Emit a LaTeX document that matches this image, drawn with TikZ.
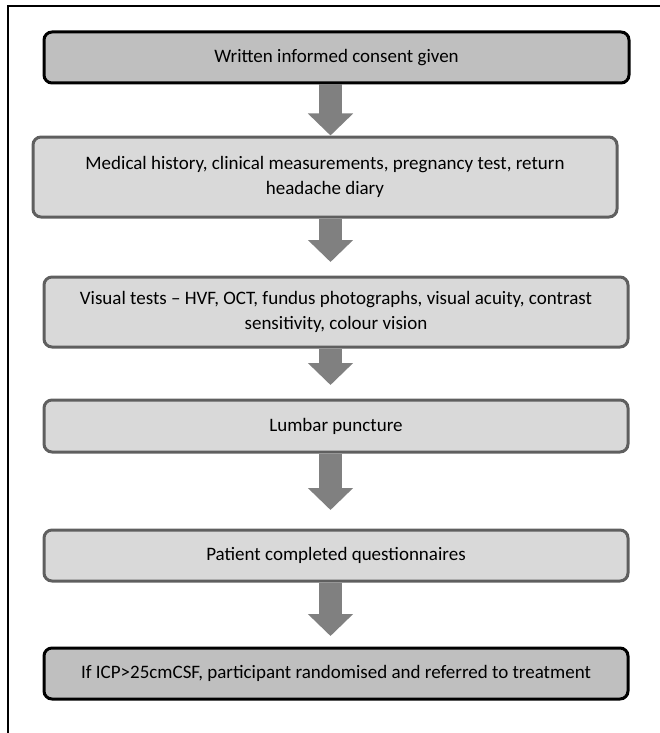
\documentclass[tikz,border=0pt]{standalone}
\usepackage{fontspec}
\setmainfont{Carlito}
\usetikzlibrary{arrows.meta,calc}
\definecolor{darkfill}{HTML}{BFBFBF}
\definecolor{lightfill}{HTML}{D9D9D9}
\definecolor{lightdraw}{HTML}{5F5F5F}
\definecolor{arrowgray}{HTML}{808080}
\begin{document}
\begin{tikzpicture}[x=1pt,y=-1pt,
  basebox/.style={rectangle, rounded corners=8pt, line width=3pt, align=center, inner sep=0pt, outer sep=0pt,
    font=\fontsize{19}{24.5}\selectfont, text=black},
  darkbox/.style={basebox, draw=black, fill=darkfill},
  lightbox/.style={basebox, draw=lightdraw, fill=lightfill},
  bigarrow/.style={draw=arrowgray, line width=23pt, -{Triangle[width=44pt,length=22pt]}, arrowgray, shorten <=1.5pt}
]
\useasboundingbox (0,0) rectangle (660,733);
\draw[line width=2pt] (8,733) -- (8,6) -- (660,6);
\coordinate (ax) at (330.5,0);

\node[darkbox, minimum width=585pt, minimum height=51pt] (b1) at (336.5,57.5) {Written informed consent given};
\node[lightbox, minimum width=584pt, minimum height=80pt] (b2) at (325,177) {Medical history, clinical measurements, pregnancy test, return\\headache diary};
\node[lightbox, minimum width=584pt, minimum height=70pt] (b3) at (336,312) {Visual tests – HVF, OCT, fundus photographs, visual acuity, contrast\\sensitivity, colour vision};
\node[lightbox, minimum width=584pt, minimum height=52pt] (b4) at (336,426) {Lumbar puncture};
\node[lightbox, minimum width=584pt, minimum height=51pt] (b5) at (336,555.5) {Patient completed questionnaires};
\node[darkbox, minimum width=584pt, minimum height=51pt] (b6) at (336,673.5) {If ICP>25cmCSF, participant randomised and referred to treatment};

\draw[bigarrow, shorten >=1.5pt] (b1.south -| ax) -- (b2.north -| ax);
\draw[bigarrow, shorten >=15pt] (b2.south -| ax) -- (b3.north -| ax);
\draw[bigarrow, shorten >=15pt] (b3.south -| ax) -- (b4.north -| ax);
\draw[bigarrow, shorten >=20pt] (b4.south -| ax) -- (b5.north -| ax);
\draw[bigarrow, shorten >=12pt] (b5.south -| ax) -- (b6.north -| ax);
\end{tikzpicture}
\end{document}
